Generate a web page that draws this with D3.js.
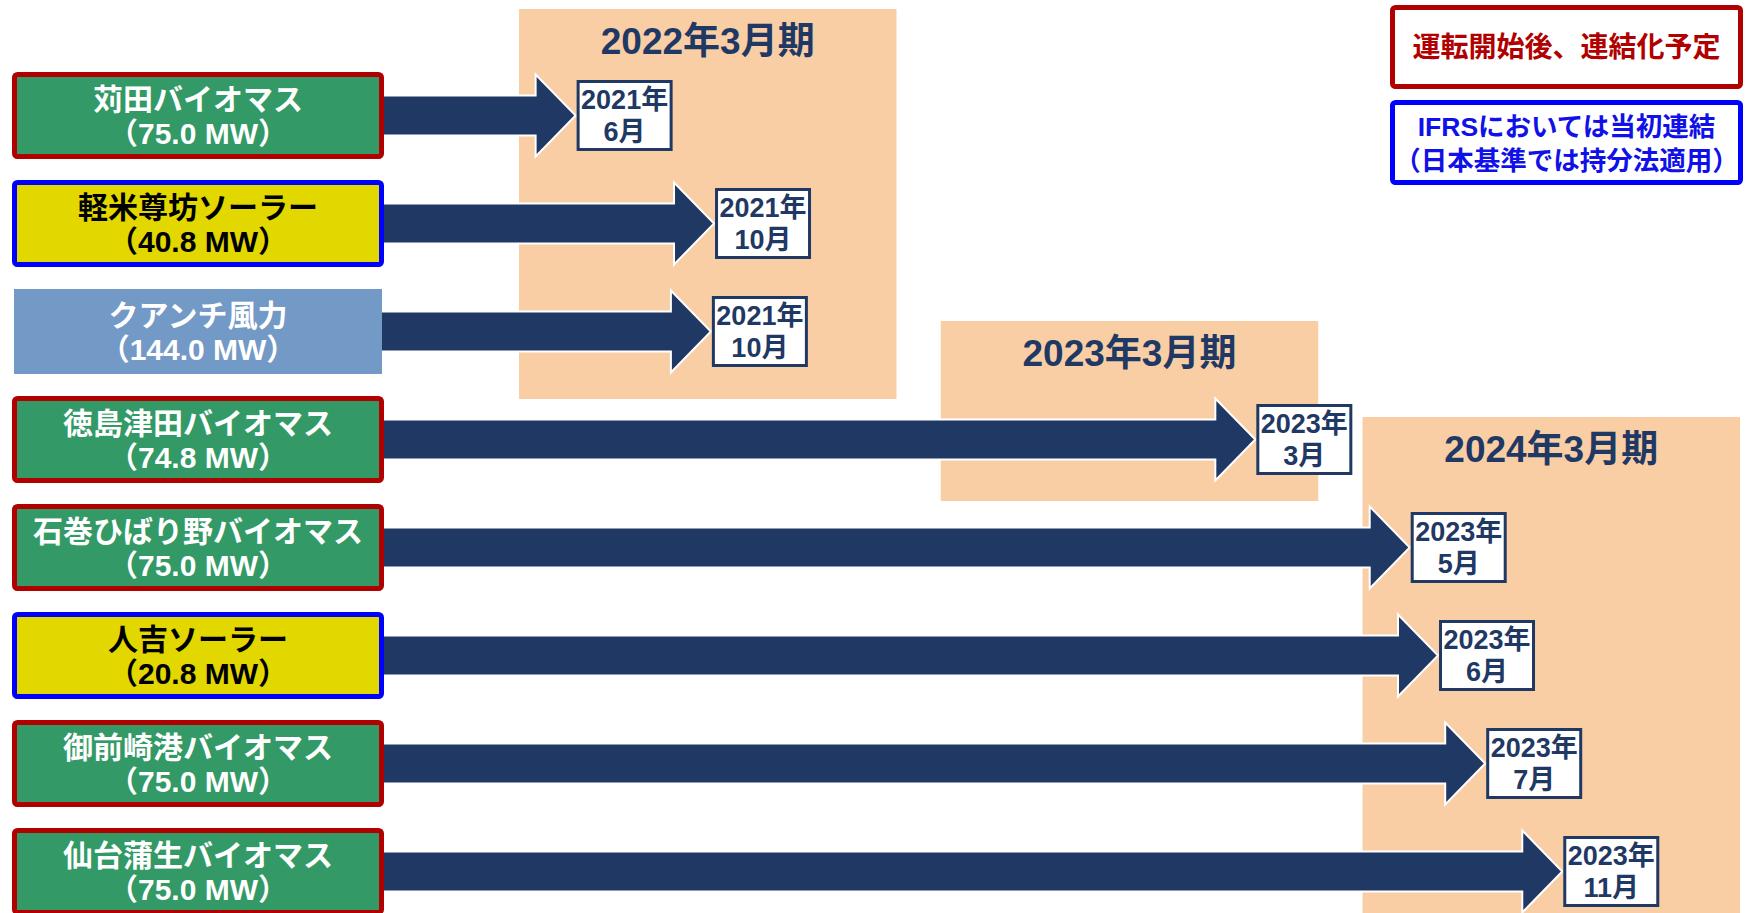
<!DOCTYPE html>
<html>
<head>
<meta charset="utf-8">
<script src="https://cdn.jsdelivr.net/npm/d3@7"></script>
<style>
  html, body { margin: 0; padding: 0; background: #ffffff; }
  svg { display: block; }
  text { font-family: "Liberation Sans", Arial, "Noto Sans CJK JP", sans-serif; font-weight: bold; }
</style>
</head>
<body>
<svg id="chart" width="1746" height="913"></svg>
<script>
// ---------------- data ----------------
const projects = ['苅田バイオマス', '軽米尊坊ソーラー', 'クアンチ風力', '徳島津田バイオマス',
                  '石巻ひばり野バイオマス', '人吉ソーラー', '御前崎港バイオマス', '仙台蒲生バイオマス'];
const capacityMW = [75.0, 40.8, 144.0, 74.8, 75.0, 20.8, 75.0, 75.0];
const projectType = ['biomass', 'solar', 'wind', 'biomass', 'biomass', 'solar', 'biomass', 'biomass'];
const accounting = ['consolidated', 'ifrs', 'none', 'consolidated', 'consolidated', 'ifrs', 'consolidated', 'consolidated'];
const codYear = [2021, 2021, 2021, 2023, 2023, 2023, 2023, 2023];
const codMonth = [6, 10, 10, 3, 5, 6, 7, 11];
const fiscalPeriods = ['2022年3月期', '2023年3月期', '2024年3月期'];
const arrowPeriod = ['2022年3月期', '2022年3月期', '2022年3月期', '2023年3月期',
                     '2024年3月期', '2024年3月期', '2024年3月期', '2024年3月期'];
// arrow end, in months into the fiscal period
const arrowEndMonth = [1.8, 6.2, 6.1, 10.0, 1.5, 2.4, 3.9, 6.35];
const periodFirstRow = [0, 3, 4];
const periodLastRow = [2, 3, 7];
const legendRed = ['運転開始後、連結化予定'];
const legendBlue = ['IFRSにおいては当初連結', '（日本基準では持分法適用）'];

// ---------------- styles ----------------
const typeFill = { biomass: '#339966', solar: '#E2D800', wind: '#7399C6' };
const typeText = { biomass: '#ffffff', solar: '#000000', wind: '#ffffff' };
const accBorder = { consolidated: '#B00000', ifrs: '#0000FF', none: null };
const navy = '#1F3864';
const peach = '#F9CEA5';
const periodPad = [{ top: 63, bottom: 24 }, { top: 75, bottom: 18 }, { top: 87, bottom: 60 }];

const svg = d3.select('#chart');

// ---------------- scales ----------------
const y = d3.scaleBand().domain(projects).range([72, 915]).paddingInner(21 / 108).paddingOuter(0);
const xPeriod = d3.scaleBand().domain(fiscalPeriods).range([519, 1740]).paddingInner(0.105).paddingOuter(0);
const xMonth = d3.scaleLinear().domain([0, 12]).range([0, xPeriod.bandwidth()]);
const xEnd = (i) => xPeriod(arrowPeriod[i]) + xMonth(arrowEndMonth[i]);

// ---------------- period panels ----------------
const panels = svg.append('g').attr('class', 'periods');
fiscalPeriods.forEach((p, k) => {
  const top = y(projects[periodFirstRow[k]]) - periodPad[k].top;
  const bottom = y(projects[periodLastRow[k]]) + y.bandwidth() + periodPad[k].bottom;
  panels.append('rect')
    .attr('x', xPeriod(p)).attr('y', top)
    .attr('width', xPeriod.bandwidth()).attr('height', bottom - top)
    .attr('fill', peach);
  panels.append('text')
    .attr('x', xPeriod(p) + xPeriod.bandwidth() / 2).attr('y', top + 45)
    .attr('text-anchor', 'middle').attr('font-size', 37).attr('fill', navy)
    .text(p);
});

// ---------------- arrows ----------------
const shaftH = 20, headH = 41, headL = 40, startX = 380;
const arrows = svg.append('g').attr('class', 'arrows');
projects.forEach((name, i) => {
  const cy = y(name) + y.bandwidth() / 2;
  const tip = xEnd(i);
  const base = tip - headL;
  const pts = [[startX, cy - shaftH], [base, cy - shaftH], [base, cy - headH], [tip, cy],
               [base, cy + headH], [base, cy + shaftH], [startX, cy + shaftH]];
  arrows.append('path')
    .attr('d', d3.line()(pts) + 'Z')
    .attr('fill', navy).attr('stroke', '#ffffff').attr('stroke-width', 2)
    .attr('stroke-linejoin', 'miter');
});

// ---------------- project boxes ----------------
const boxes = svg.append('g').attr('class', 'projects');
projects.forEach((name, i) => {
  const top = y(name);
  const h = y.bandwidth();
  const border = accBorder[accounting[i]];
  if (border) {
    boxes.append('rect')
      .attr('x', 14.5).attr('y', top + 2.5).attr('width', 367).attr('height', h - 5)
      .attr('rx', 3).attr('fill', typeFill[projectType[i]])
      .attr('stroke', border).attr('stroke-width', 5);
  } else {
    boxes.append('rect')
      .attr('x', 14).attr('y', top + 1).attr('width', 368).attr('height', h - 2)
      .attr('fill', typeFill[projectType[i]]);
  }
  const cx = 198, cy = top + h / 2;
  boxes.append('text')
    .attr('x', cx).attr('y', cy - 6).attr('text-anchor', 'middle')
    .attr('font-size', 30).attr('fill', typeText[projectType[i]])
    .text(name);
  boxes.append('text')
    .attr('x', cx).attr('y', cy + 28).attr('text-anchor', 'middle')
    .attr('font-size', 30).attr('fill', typeText[projectType[i]])
    .text('（' + capacityMW[i].toFixed(1) + ' MW）');
});

// ---------------- date boxes ----------------
const dates = svg.append('g').attr('class', 'dates');
const dW = 96, dH = 71;
projects.forEach((name, i) => {
  const cy = y(name) + y.bandwidth() / 2;
  const x0 = xEnd(i) + 1;
  dates.append('rect')
    .attr('x', x0 + 1.5).attr('y', cy - dH / 2 + 1.5)
    .attr('width', dW - 3).attr('height', dH - 3)
    .attr('fill', '#ffffff').attr('stroke', navy).attr('stroke-width', 3);
  dates.append('text')
    .attr('x', x0 + dW / 2).attr('y', cy - 7).attr('text-anchor', 'middle')
    .attr('font-size', 27).attr('fill', navy)
    .text(codYear[i] + '年');
  dates.append('text')
    .attr('x', x0 + dW / 2).attr('y', cy + 25).attr('text-anchor', 'middle')
    .attr('font-size', 27).attr('fill', navy)
    .text(codMonth[i] + '月');
});

// ---------------- legend ----------------
const legend = svg.append('g').attr('class', 'legend');
legend.append('rect')
  .attr('x', 1392.5).attr('y', 7.5).attr('width', 348).attr('height', 79)
  .attr('rx', 3).attr('fill', '#ffffff').attr('stroke', '#B00000').attr('stroke-width', 5);
legend.append('text')
  .attr('x', 1566.5).attr('y', 57).attr('text-anchor', 'middle')
  .attr('font-size', 28).attr('fill', '#B00000').text(legendRed[0]);
legend.append('rect')
  .attr('x', 1392.5).attr('y', 102.5).attr('width', 348).attr('height', 80)
  .attr('rx', 3).attr('fill', '#ffffff').attr('stroke', '#0000FF').attr('stroke-width', 5);
legendBlue.forEach((t, k) => {
  legend.append('text')
    .attr('x', 1566.5).attr('y', 136 + k * 34).attr('text-anchor', 'middle')
    .attr('font-size', 26.5).attr('fill', '#1010E8').text(t);
});
</script>
</body>
</html>
